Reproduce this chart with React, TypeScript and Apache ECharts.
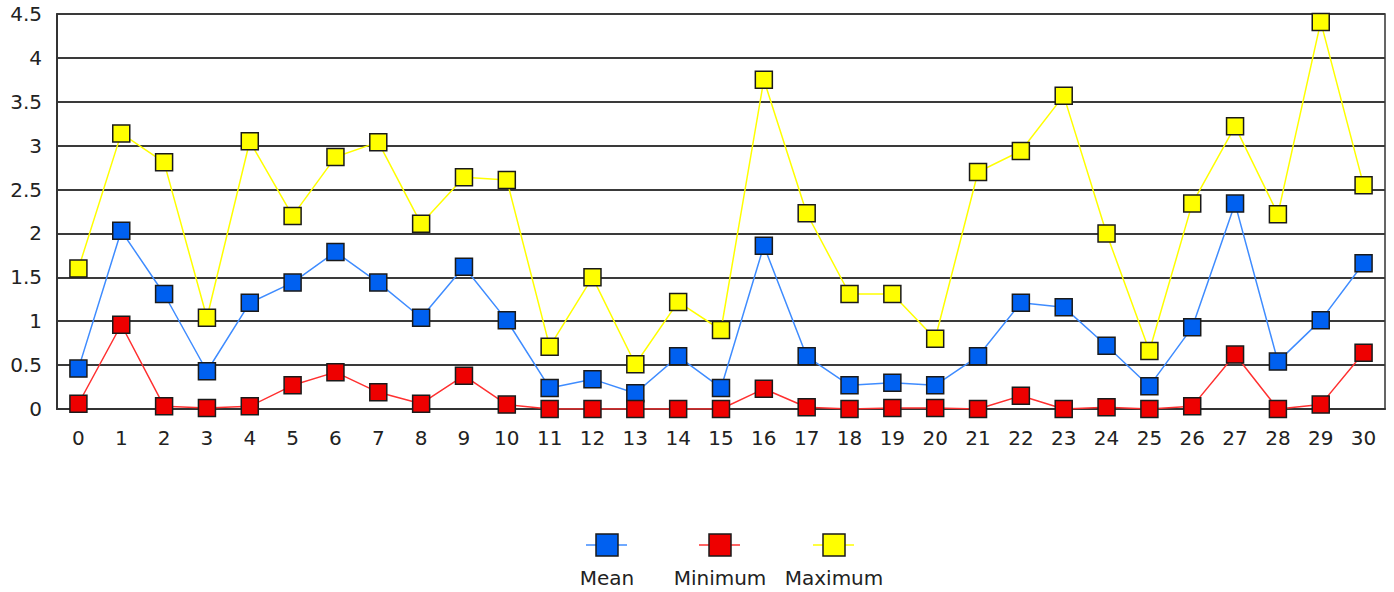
import React, { useEffect, useRef } from "react";
import * as echarts from "echarts";

const categories = Array.from({ length: 31 }, (_, i) => String(i));
const meanValues = [0.46, 2.03, 1.31, 0.43, 1.21, 1.44, 1.79, 1.44, 1.04, 1.62, 1.01, 0.24, 0.34, 0.18, 0.6, 0.24, 1.86, 0.6, 0.27, 0.3, 0.27, 0.6, 1.21, 1.16, 0.72, 0.26, 0.93, 2.34, 0.54, 1.01, 1.66];
const minValues = [0.06, 0.96, 0.03, 0.01, 0.03, 0.27, 0.42, 0.19, 0.06, 0.38, 0.05, 0, 0, 0, 0, 0, 0.23, 0.02, 0, 0.01, 0.01, 0, 0.15, 0, 0.02, 0, 0.03, 0.62, 0, 0.05, 0.64];
const maxValues = [1.6, 3.14, 2.81, 1.04, 3.05, 2.2, 2.87, 3.04, 2.11, 2.64, 2.61, 0.71, 1.5, 0.51, 1.22, 0.9, 3.75, 2.23, 1.31, 1.31, 0.8, 2.7, 2.94, 3.57, 2.0, 0.66, 2.34, 3.22, 2.22, 4.41, 2.55];
const seriesNames = ["Mean", "Minimum", "Maximum"];

const FONT = "DejaVu Sans";
const lineColors = ["#3f8cff", "#ff3030", "#ffff00"];
const markerColors = ["#0060f0", "#ee0000", "#ffff00"];

export default function App() {
  const ref = useRef<HTMLDivElement>(null);
  useEffect(() => {
    if (!ref.current) return;
    const chart = echarts.init(ref.current, null, { renderer: "svg" });
    const data = [meanValues, minValues, maxValues];
    const legendCenters = [607, 720, 834];
    const legendGraphics: any[] = [];
    seriesNames.forEach((name, i) => {
      const cx = legendCenters[i];
      legendGraphics.push({
        type: "line",
        shape: { x1: cx - 21, y1: 545, x2: cx + 20, y2: 545 },
        style: { stroke: lineColors[i], lineWidth: 1.5 },
      });
      legendGraphics.push({
        type: "rect",
        shape: { x: cx - 11, y: 534, width: 22, height: 22 },
        style: { fill: markerColors[i], stroke: "#1a1a1a", lineWidth: 1.5 },
      });
      legendGraphics.push({
        type: "text",
        x: cx,
        y: 578,
        style: {
          text: name,
          fill: "#222",
          font: `20px "${FONT}"`,
          textAlign: "center",
          textVerticalAlign: "middle",
        },
      });
    });
    chart.setOption({
      animation: false,
      backgroundColor: "#ffffff",
      grid: {
        left: 57,
        right: 9,
        top: 14,
        bottom: 183,
        show: true,
        borderColor: "#333",
        borderWidth: 1.5,
      },
      xAxis: {
        type: "category",
        data: categories,
        boundaryGap: true,
        axisLine: { lineStyle: { color: "#333", width: 2 } },
        axisTick: { show: false },
        axisLabel: { color: "#222", fontFamily: FONT, fontSize: 20, margin: 19 },
        splitLine: { show: false },
      },
      yAxis: {
        type: "value",
        min: 0,
        max: 4.5,
        interval: 0.5,
        axisLine: { show: true, lineStyle: { color: "#333", width: 2 } },
        axisTick: { show: false },
        axisLabel: { color: "#222", fontFamily: FONT, fontSize: 20, margin: 15 },
        splitLine: { show: true, lineStyle: { color: "#3a3a3a", width: 2 } },
      },
      series: seriesNames.map((name, i) => ({
        name,
        type: "line",
        data: data[i],
        symbol: "rect",
        symbolSize: 17,
        z: 2 + i,
        lineStyle: { color: lineColors[i], width: 1.5 },
        itemStyle: { color: markerColors[i], borderColor: "#1a1a1a", borderWidth: 1.5 },
        emphasis: { disabled: true },
      })),
      graphic: legendGraphics,
    });
    return () => chart.dispose();
  }, []);
  return (
    <div
      ref={ref}
      style={{ position: "absolute", left: 0, top: 0, width: 1394, height: 592 }}
    />
  );
}
